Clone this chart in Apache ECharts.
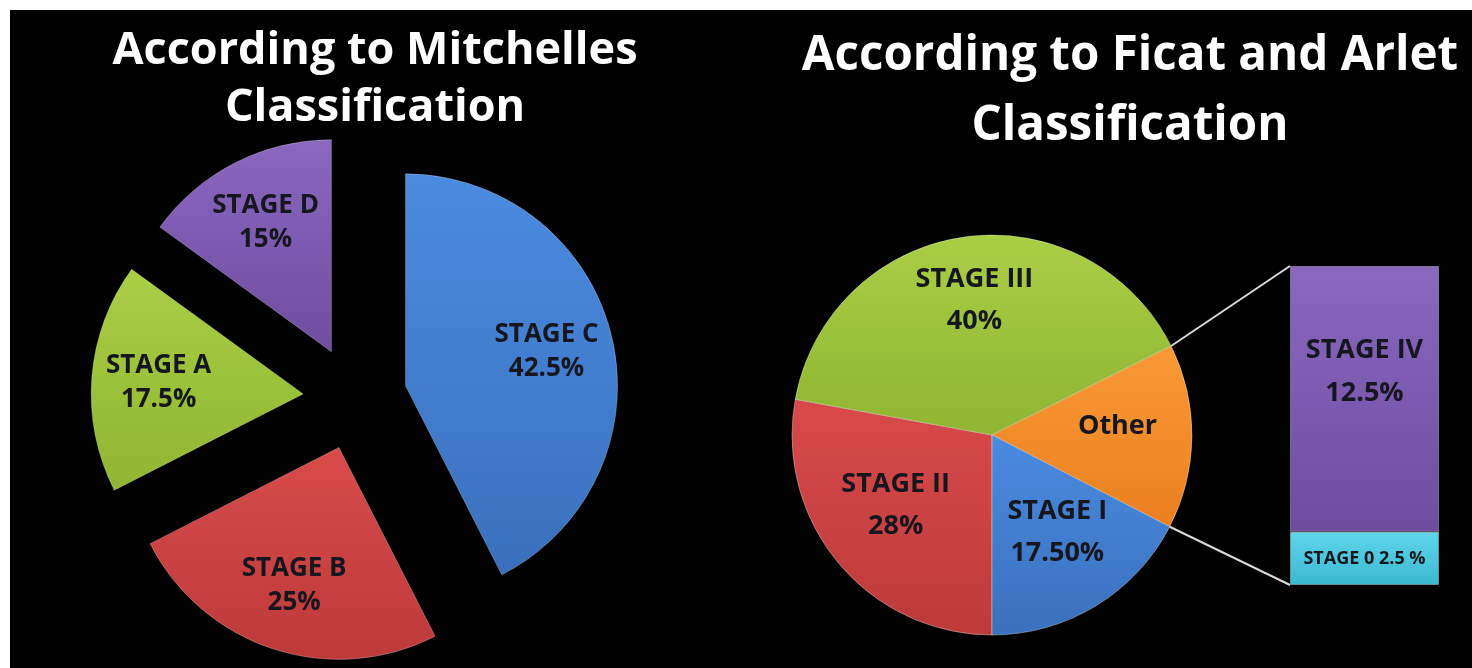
<!DOCTYPE html>
<html><head><meta charset="utf-8">
<script src="https://cdn.jsdelivr.net/npm/echarts@6/dist/echarts.min.js"></script>
<style>
html,body{margin:0;padding:0;background:#fff;width:1472px;height:668px;overflow:hidden}
#c{position:absolute;left:10px;top:10px;width:1462px;height:658px;background:#000}
</style></head><body><div id="c"></div>
<script>
// ---- data ----
const leftTitle = 'According to Mitchelles\nClassification';
const rightTitle = 'According to Ficat and Arlet\nClassification';
const leftCats = ['STAGE C', 'STAGE B', 'STAGE A', 'STAGE D'];
const leftVals = [42.5, 25, 17.5, 15];
const leftText = ['42.5%', '25%', '17.5%', '15%'];
const rightCats = ['STAGE II', 'STAGE III', 'Other', 'STAGE I'];
const rightVals = [28, 40, 15, 17.5];
const rightText = ['28%', '40%', '', '17.50%'];
const barCats = ['STAGE 0', 'STAGE IV'];
const barVals = [2.5, 12.5];
const barText = ['2.5 %', '12.5%'];

// ---- style ----
const FONT = '"Open Sans"';
const LABEL_COLOR = '#16161f';
function grad(a, b) {
  return new echarts.graphic.LinearGradient(0, 0, 0, 1, [
    { offset: 0, color: a }, { offset: 1, color: b }
  ]);
}
const C = {
  blue: grad('#4a8be0', '#3a70bd'),
  red: grad('#d84a4a', '#bd3a3a'),
  green: grad('#a8cf44', '#8fb532'),
  purple: grad('#8a68c0', '#6e4c9e'),
  orange: grad('#f99a35', '#eb7f20'),
  cyan: grad('#5fd6ec', '#3bb8d0')
};
const leftColors = [C.blue, C.red, C.green, C.purple];
const rightColors = [C.red, C.green, C.orange, C.blue];
const barColors = [C.cyan, C.purple];

const LP = { cx: 345, cy: 388, r: 212, off: 52 };
const RP = { cx: 982, cy: 425, r: 200, labelLift: 10 };
const BG = { left: 1280, top: 256, width: 149, height: 319 };
const barMax = barVals.reduce((a, b) => a + b, 0);

const chart = echarts.init(document.getElementById('c'), null, { renderer: 'canvas' });

function pieData(cats, vals, colors, selected) {
  return cats.map((n, i) => ({
    name: n, value: vals[i], selected: selected,
    itemStyle: { color: colors[i] }
  }));
}

const option = {
  backgroundColor: '#000',
  animation: false,
  title: [
    {
      text: leftTitle, left: 360, top: 8, textAlign: 'center',
      textStyle: { color: '#fff', fontFamily: FONT, fontWeight: 'bold', fontSize: 45, lineHeight: 57 }
    },
    {
      text: rightTitle, left: 1115, top: 6, textAlign: 'center',
      textStyle: { color: '#fff', fontFamily: FONT, fontWeight: 'bold', fontSize: 47.5, lineHeight: 70 }
    }
  ],
  grid: { left: BG.left, top: BG.top, width: BG.width, height: BG.height },
  xAxis: { type: 'category', data: ['Other'], show: false },
  yAxis: { type: 'value', min: 0, max: barMax, show: false },
  series: [
    // left exploded pie (shapes)
    {
      type: 'pie', center: [LP.cx, LP.cy], radius: [0, LP.r], startAngle: 90, clockwise: true,
      selectedMode: 'multiple', selectedOffset: LP.off, silent: true,
      label: { show: false }, labelLine: { show: false },
      itemStyle: { borderColor: 'rgba(255,255,255,0.25)', borderWidth: 1 },
      data: pieData(leftCats, leftVals, leftColors, true)
    },
    // left pie labels
    {
      type: 'pie', center: [LP.cx, LP.cy], radius: [72, LP.r], startAngle: 90, clockwise: true,
      selectedMode: 'multiple', selectedOffset: LP.off, silent: true,
      itemStyle: { color: 'rgba(0,0,0,0)' },
      label: {
        show: true, position: 'inside', color: LABEL_COLOR, fontFamily: FONT, fontWeight: 'bold',
        fontSize: 26, lineHeight: 34,
        formatter: p => p.name + '\n' + leftText[p.dataIndex]
      },
      data: leftCats.map((n, i) => ({ name: n, value: leftVals[i], selected: true }))
    },
    // right pie (shapes)
    {
      type: 'pie', center: [RP.cx, RP.cy], radius: [0, RP.r], startAngle: -90, clockwise: true,
      silent: true, label: { show: false }, labelLine: { show: false },
      itemStyle: { borderColor: 'rgba(255,255,255,0.35)', borderWidth: 1 },
      data: pieData(rightCats, rightVals, rightColors, false)
    },
    // right pie labels
    {
      type: 'pie', center: [RP.cx, RP.cy - RP.labelLift], radius: [45, RP.r], startAngle: -90, clockwise: true,
      silent: true, itemStyle: { color: 'rgba(0,0,0,0)' },
      label: {
        show: true, position: 'inside', color: LABEL_COLOR, fontFamily: FONT, fontWeight: 'bold',
        fontSize: 27, lineHeight: 42,
        formatter: p => rightText[p.dataIndex] ? p.name + '\n' + rightText[p.dataIndex] : p.name
      },
      data: rightCats.map((n, i) => ({ name: n, value: rightVals[i] }))
    },
    // bar of pie
    {
      type: 'bar', stack: 'other', barWidth: '100%', silent: true, name: barCats[0],
      data: [{ value: barVals[0], itemStyle: { color: barColors[0] } }],
      itemStyle: { borderColor: 'rgba(255,255,255,0.3)', borderWidth: 1 },
      label: {
        show: true, position: 'inside', color: LABEL_COLOR, fontFamily: FONT, fontWeight: 'bold',
        fontSize: 18, formatter: () => barCats[0] + ' ' + barText[0]
      }
    },
    {
      type: 'bar', stack: 'other', barWidth: '100%', silent: true, name: barCats[1],
      data: [{ value: barVals[1], itemStyle: { color: barColors[1] } }],
      itemStyle: { borderColor: 'rgba(255,255,255,0.3)', borderWidth: 1 },
      label: {
        show: true, position: 'inside', offset: [0, -27], color: LABEL_COLOR, fontFamily: FONT,
        fontWeight: 'bold', fontSize: 27, lineHeight: 43,
        formatter: () => barCats[1] + '\n' + barText[1]
      }
    }
  ]
};
chart.setOption(option);

// connector lines from the "Other" slice edges to the bar corners
(function () {
  const total = rightVals.reduce((a, b) => a + b, 0);
  const oi = rightCats.indexOf('Other');
  let before = 0;
  for (let i = 0; i < oi; i++) before += rightVals[i];
  const a1 = (-90 - 360 * before / total) * Math.PI / 180;
  const a2 = (-90 - 360 * (before + rightVals[oi]) / total) * Math.PI / 180;
  const p1 = [RP.cx + RP.r * Math.cos(a1), RP.cy - RP.r * Math.sin(a1)];
  const p2 = [RP.cx + RP.r * Math.cos(a2), RP.cy - RP.r * Math.sin(a2)];
  const topY = chart.convertToPixel({ yAxisIndex: 0 }, barMax);
  const botY = chart.convertToPixel({ yAxisIndex: 0 }, 0);
  const bx = BG.left;
  chart.setOption({
    graphic: [
      { type: 'line', shape: { x1: p1[0], y1: p1[1], x2: bx, y2: topY }, style: { stroke: '#d9d9d9', lineWidth: 2 }, silent: true },
      { type: 'line', shape: { x1: p2[0], y1: p2[1], x2: bx, y2: botY }, style: { stroke: '#d9d9d9', lineWidth: 2 }, silent: true }
    ]
  });
})();
</script></body></html>
